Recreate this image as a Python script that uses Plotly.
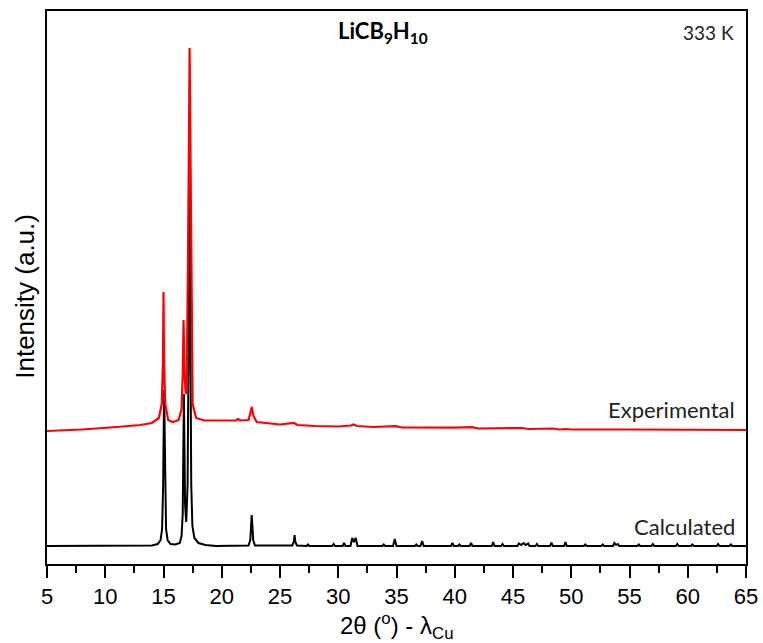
import plotly.graph_objects as go

# ---- Calculated pattern (2theta in degrees, intensity in arbitrary units) ----
calc_2theta = [5.0, 13.5, 14.0, 14.5, 14.75, 14.88, 14.97, 15.05, 15.13, 15.22, 15.35, 15.6, 16.0,
               16.4, 16.55, 16.65, 16.75, 16.85, 16.95, 17.07, 17.17, 17.22, 17.3, 17.38, 17.48,
               17.65, 18.0, 18.6, 19.5,
               22.3, 22.45, 22.52, 22.57, 22.62, 22.7, 22.85,
               26.05, 26.18, 26.25, 26.32, 26.45,
               27.28, 27.4, 27.52,
               29.48, 29.6, 29.72,
               30.38, 30.5, 30.62,
               31.05, 31.2, 31.35, 31.5, 31.65,
               33.78, 33.9, 34.02,
               34.7, 34.85, 35.0,
               36.58, 36.7, 36.82,
               37.06, 37.2, 37.34,
               39.68, 39.8, 39.92,
               40.28, 40.4, 40.52,
               41.28, 41.4, 41.52,
               43.18, 43.3, 43.42,
               43.98, 44.1, 44.22,
               45.38, 45.5, 45.7, 45.9, 46.1, 46.3, 46.42,
               46.93, 47.05, 47.17,
               48.18, 48.3, 48.42,
               49.38, 49.5, 49.62,
               51.08, 51.2, 51.32,
               52.58, 52.7, 52.82,
               53.58, 53.7, 53.85, 54.0, 54.12,
               55.68, 55.8, 55.92,
               56.88, 57.0, 57.12,
               58.98, 59.1, 59.22,
               60.28, 60.4, 60.52,
               62.48, 62.6, 62.72,
               63.58, 63.7, 63.82,
               65.0]
calc_intensity = [18, 18, 18.5, 20, 24, 35, 80, 174, 80, 35, 24, 20, 19.5,
                  21, 28, 50, 170, 60, 42, 80, 250, 402, 250, 80, 38,
                  26, 21, 19, 18,
                  18.5, 24, 40, 49, 40, 24, 18.5,
                  18.5, 22, 29, 22, 18.5,
                  18, 19.5, 18,
                  18, 20, 18,
                  18, 21, 18,
                  18, 26, 22, 26, 18,
                  18, 19.5, 18,
                  18, 25, 18,
                  18, 19.5, 18,
                  18, 23, 18,
                  18, 21, 18,
                  18, 19.5, 18,
                  18, 21, 18,
                  18, 22, 18,
                  18, 20, 18,
                  18, 20.5, 19, 21, 19, 20.5, 18,
                  18, 20, 18,
                  18, 21.5, 18,
                  18, 22, 18,
                  18, 19.5, 18,
                  18, 19.5, 18,
                  18, 21, 19, 20, 18,
                  18, 19.5, 18,
                  18, 20, 18,
                  18, 20, 18,
                  18, 19.5, 18,
                  18, 20, 18,
                  18, 19.5, 18,
                  18]

# ---- Experimental pattern ----
exp_2theta = [5.0, 8.0, 11.0, 13.0, 14.0, 14.6, 14.85, 14.95, 15.0, 15.05, 15.15, 15.4, 15.8,
              16.3, 16.55, 16.65, 16.72, 16.8, 16.9, 16.98, 17.1, 17.2, 17.24, 17.28, 17.38,
              17.5, 17.8, 18.5, 20.0, 21.2, 21.4, 21.6, 22.3, 22.45, 22.58, 22.72, 23.0,
              25.0, 26.2, 26.5, 28.0, 30.0, 31.1, 31.3, 31.6, 33.0, 34.9, 35.5, 38.0,
              40.0, 41.5, 42.0, 45.8, 46.3, 48.4, 49.0, 49.5, 50.0, 55.0, 60.0, 65.0]
exp_intensity = [133, 134.5, 137, 139, 141, 146, 160, 200, 272, 200, 160, 144, 142,
                 144, 155, 190, 244, 190, 172, 170, 300, 460, 516, 460, 300,
                 160, 146, 143.5, 143.5, 143.5, 145, 143.5, 144, 152, 157, 148, 142,
                 139.5, 141, 139, 138, 137.5, 138.5, 139.5, 138, 137, 137.8, 136.5, 136,
                 136.3, 136.8, 135.5, 136, 135, 135.5, 134.5, 135, 134.5, 134.5, 134, 134]

x_ticks = [5, 10, 15, 20, 25, 30, 35, 40, 45, 50, 55, 60, 65]

fig = go.Figure()
fig.add_trace(go.Scatter(x=calc_2theta, y=calc_intensity, mode="lines",
                         line=dict(color="black", width=2), name="Calculated",
                         showlegend=False))
fig.add_trace(go.Scatter(x=exp_2theta, y=exp_intensity, mode="lines",
                         line=dict(color="#ff0000", width=2.2), name="Experimental",
                         showlegend=False))

axis_font = "'Liberation Sans', Arial, sans-serif"
label_font = dict(family="Lato, 'Open Sans', sans-serif", size=22, color="#222")
fig.add_annotation(text="Experimental", xref="paper", yref="paper", x=0.987, y=0.280,
                   xanchor="right", yanchor="middle", showarrow=False, font=label_font)
fig.add_annotation(text="Calculated", xref="paper", yref="paper", x=0.987, y=0.067,
                   xanchor="right", yanchor="middle", showarrow=False, font=label_font)
fig.add_annotation(text="333 K", xref="paper", yref="paper", x=0.985, y=0.962,
                   xanchor="right", yanchor="middle", showarrow=False,
                   font=dict(family="Lato, sans-serif", size=19, color="#222"))
fig.add_annotation(text="<b>LiCB<sub>9</sub>H<sub>10</sub></b>", xref="paper", yref="paper",
                   x=0.481, y=0.962, xanchor="center", yanchor="middle", showarrow=False,
                   font=dict(family="Lato, sans-serif", size=22, color="black"))
# axis titles
fig.add_annotation(text="2θ (<sup>o</sup>) - λ<sub>Cu</sub>", xref="paper", yref="paper",
                   x=0.5, y=-0.112, xanchor="center", yanchor="middle", showarrow=False,
                   font=dict(size=24, family=axis_font, color="black"))
fig.add_annotation(text="Intensity (a.u.)", xref="paper", yref="paper",
                   x=-0.0315, y=0.485, xanchor="center", yanchor="middle", showarrow=False,
                   textangle=-90, font=dict(size=26, family=axis_font, color="black"))

fig.update_layout(
    width=763, height=643,
    margin=dict(l=47, r=17, t=11, b=79),
    paper_bgcolor="white", plot_bgcolor="white",
    font=dict(family=axis_font, color="black"),
    xaxis=dict(range=[5, 65], tickvals=x_ticks, ticktext=[str(v) for v in x_ticks],
               ticks="outside", ticklen=12, tickwidth=1.5, tickcolor="black",
               minor=dict(dtick=2.5, tick0=5, ticks="outside", ticklen=7, tickwidth=1.5,
                          tickcolor="black", showgrid=False),
               showline=True, linewidth=2, linecolor="black", mirror=True,
               showgrid=False, zeroline=False, automargin=False,
               tickfont=dict(size=22, family=axis_font)),
    yaxis=dict(range=[0, 553], showticklabels=False, ticks="",
               showline=True, linewidth=2, linecolor="black", mirror=True,
               showgrid=False, zeroline=False, automargin=False),
)

fig.write_html("out.html")
